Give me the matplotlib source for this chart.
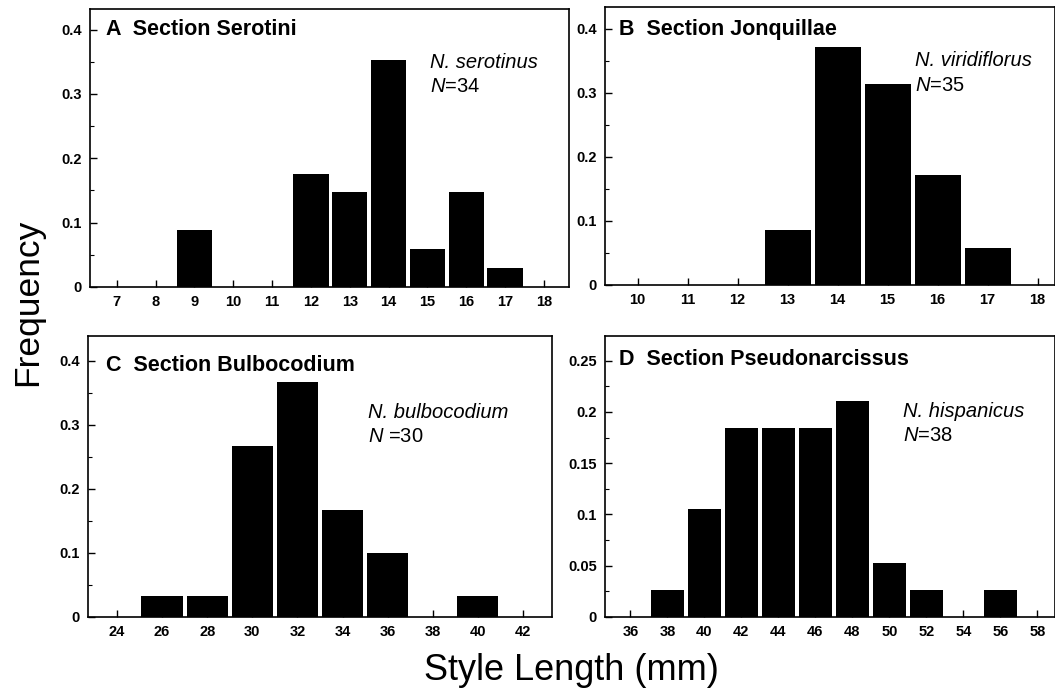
import matplotlib
matplotlib.use("Agg")
import matplotlib.pyplot as plt
import matplotlib.ticker as ticker

plt.rcParams['font.family'] = ['Liberation Sans', 'DejaVu Sans']
plt.rcParams['mathtext.fontset'] = 'custom'
plt.rcParams['mathtext.it'] = 'Liberation Sans:italic'
plt.rcParams['mathtext.rm'] = 'Liberation Sans'

# Panel A - Section Serotini
a_lengths = [9, 12, 13, 14, 15, 16, 17]
a_freq = [0.088, 0.176, 0.147, 0.353, 0.059, 0.147, 0.029]
a_xticks = list(range(7, 19))

# Panel B - Section Jonquillae
b_lengths = [13, 14, 15, 16, 17]
b_freq = [0.086, 0.371, 0.314, 0.171, 0.057]
b_xticks = list(range(10, 19))

# Panel C - Section Bulbocodium
c_lengths = [26, 28, 30, 32, 34, 36, 40]
c_freq = [0.033, 0.033, 0.267, 0.367, 0.167, 0.100, 0.033]
c_xticks = list(range(24, 43, 2))

# Panel D - Section Pseudonarcissus
d_lengths = [38, 40, 42, 44, 46, 48, 50, 52, 56]
d_freq = [0.026, 0.105, 0.184, 0.184, 0.184, 0.211, 0.053, 0.026, 0.026]
d_xticks = list(range(36, 59, 2))

panels = [
    # lengths, freq, xticks, width, xlim, ylim, major, minor, title, species, n-label, rect, title pos, note pos
    (a_lengths, a_freq, a_xticks, 0.91, (6.31, 18.66), (0, 0.432), 0.1, 0.05,
     "A  Section Serotini", "N. serotinus", r"$N$=34",
     [0.0853, 0.5847, 0.4545, 0.4023], (0.034, 0.906), (0.709, 0.842)),
    (b_lengths, b_freq, b_xticks, 0.92, (9.35, 18.35), (0, 0.434), 0.1, 0.05,
     "B  Section Jonquillae", "N. viridiflorus", r"$N$=35",
     [0.5735, 0.5876, 0.4265, 0.4023], (0.031, 0.899), (0.689, 0.840)),
    (c_lengths, c_freq, c_xticks, 1.82, (22.72, 43.28), (0, 0.439), 0.1, 0.05,
     "C  Section Bulbocodium", "N. bulbocodium", r"$N$ =30",
     [0.0834, 0.1071, 0.4398, 0.4067], (0.039, 0.875), (0.603, 0.762)),
    (d_lengths, d_freq, d_xticks, 1.82, (34.63, 58.95), (0, 0.274), 0.05, 0.025,
     "D  Section Pseudonarcissus", "N. hispanicus", r"$N$=38",
     [0.5735, 0.1071, 0.4265, 0.4067], (0.031, 0.897), (0.662, 0.766)),
]

fig = plt.figure(figsize=(10.55, 6.91), dpi=100)

for (lengths, freq, xticks, width, xlim, ylim, major, minor,
     title, species, nlab, rect, tpos, npos) in panels:
    ax = fig.add_axes(rect)
    ax.bar(lengths, freq, width=width, color="black", edgecolor="none")
    ax.set_xlim(*xlim)
    ax.set_ylim(*ylim)
    ax.set_xticks(xticks)
    ax.set_xticklabels([str(t) for t in xticks])
    ax.yaxis.set_major_locator(ticker.MultipleLocator(major))
    ax.yaxis.set_minor_locator(ticker.MultipleLocator(minor))
    ax.yaxis.set_major_formatter(ticker.FuncFormatter(lambda v, p: f"{round(v, 3):g}"))
    ax.tick_params(axis="both", which="major", direction="in", length=5, width=1,
                   labelsize=10.5, pad=6)
    ax.tick_params(axis="y", which="minor", direction="in", length=3, width=0.8)
    for lab in ax.get_xticklabels() + ax.get_yticklabels():
        lab.set_fontweight("bold")
    for sp in ax.spines.values():
        sp.set_linewidth(1.2)
    ax.text(tpos[0], tpos[1], title, transform=ax.transAxes, fontsize=15.5,
            fontweight="bold", va="baseline", ha="left")
    ax.text(npos[0], npos[1], species, transform=ax.transAxes, fontsize=14.5,
            style="italic", va="top", ha="left")
    ax.text(npos[0], npos[1] - 0.087, nlab, transform=ax.transAxes, fontsize=14.5,
            va="top", ha="left")

fig.text(0.026, 0.562, "Frequency", rotation=90, fontsize=25.5, ha="center", va="center")
fig.text(0.542, 0.030, "Style Length (mm)", fontsize=26, ha="center", va="center")

fig.savefig("out.png", dpi=100)
